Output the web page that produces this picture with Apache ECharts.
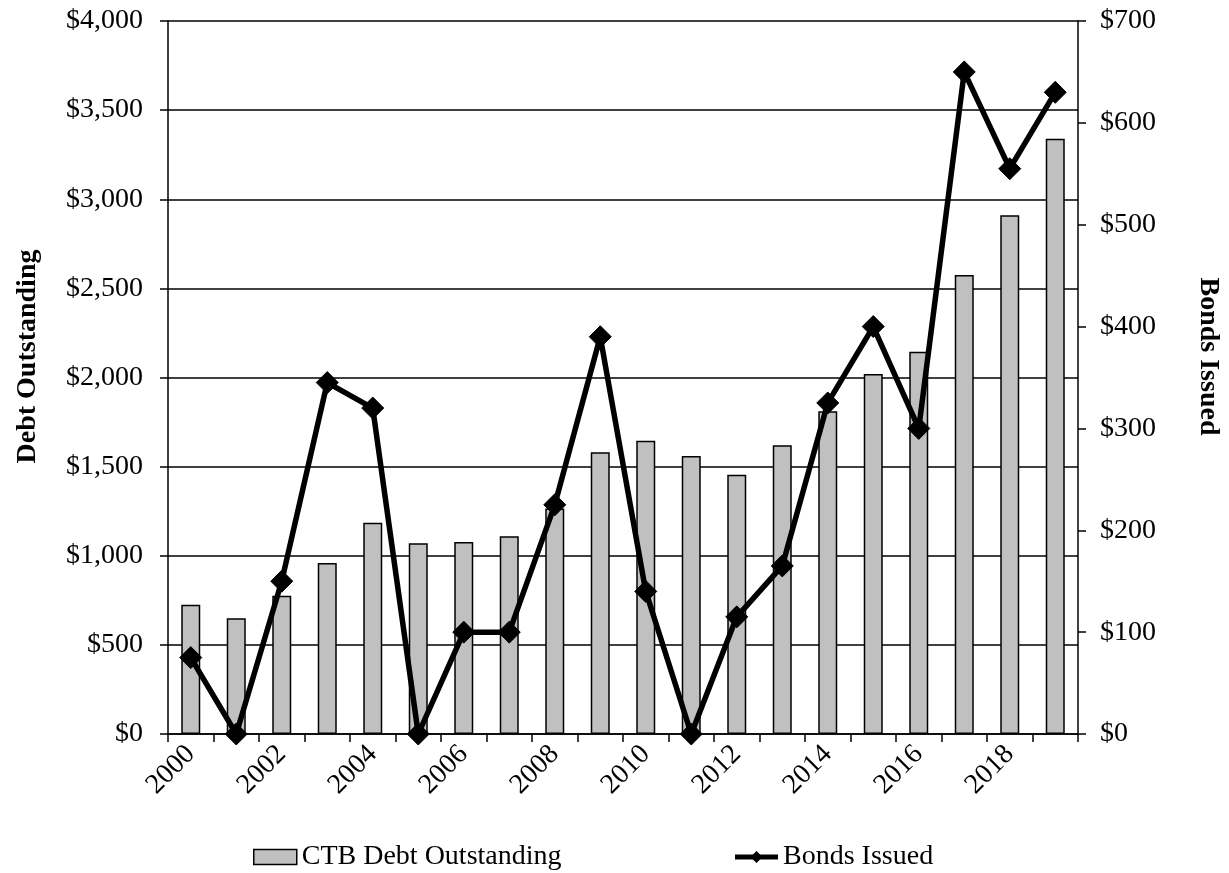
<!DOCTYPE html>
<html>
<head>
<meta charset="utf-8">
<script src="https://cdn.jsdelivr.net/npm/echarts@6/dist/echarts.min.js"></script>
<style>
  html, body { margin: 0; padding: 0; background: #fff; }
  #chart { width: 1229px; height: 873px; }
</style>
</head>
<body>
<div id="chart"></div>
<script>
// Fiscal years on the category axis
const years = ['2000','2001','2002','2003','2004','2005','2006','2007','2008','2009',
               '2010','2011','2012','2013','2014','2015','2016','2017','2018','2019'];

// CTB debt outstanding (left axis, $)
const debtOutstanding = [725, 650, 775, 960, 1185, 1070, 1077, 1110, 1265, 1580,
                         1645, 1560, 1455, 1620, 1810, 2020, 2145, 2575, 2910, 3340];

// Bonds issued per year (right axis, $)
const bondsIssued = [75, 0, 150, 345, 320, 0, 100, 100, 225, 390,
                     140, 0, 115, 165, 325, 400, 300, 650, 555, 630];

const FONT = 'Liberation Serif, Times New Roman, serif';
const FS = 28;
const money = v => '$' + v.toLocaleString('en-US');

const chart = echarts.init(document.getElementById('chart'), null, { renderer: 'canvas' });

chart.setOption({
  animation: false,
  backgroundColor: '#ffffff',
  textStyle: { fontFamily: FONT, color: '#000' },
  grid: { left: 168, right: 151, top: 21, bottom: 139, containLabel: false,
          outerBoundsMode: 'none' },
  legend: {
    top: 838,
    left: 248,
    itemWidth: 43,
    itemHeight: 15,
    itemGap: 171,
    textStyle: { fontFamily: FONT, fontSize: FS, color: '#000' },
    data: [
      { name: 'CTB Debt Outstanding', icon: 'rect',
        itemStyle: { color: '#c0c0c0', borderColor: '#000', borderWidth: 1.5 } },
      { name: 'Bonds Issued',
        lineStyle: { color: '#000', width: 5 },
        itemStyle: { color: '#000' } }
    ]
  },
  xAxis: {
    type: 'category',
    data: years,
    boundaryGap: true,
    axisLine: { show: true, lineStyle: { color: '#000', width: 1.5 } },
    axisTick: { show: true, interval: 0, length: 8, inside: false,
                lineStyle: { color: '#000', width: 1.5 } },
    axisLabel: { interval: 1, rotate: 45, fontFamily: FONT, fontSize: FS,
                 color: '#000', margin: 16 },
    splitLine: { show: false }
  },
  yAxis: [
    {
      type: 'value',
      name: 'Debt Outstanding',
      nameLocation: 'middle',
      nameGap: 126,
      nameRotate: 90,
      nameTextStyle: { fontFamily: FONT, fontSize: FS, fontWeight: 'bold', color: '#000',
                       padding: [0, 0, 0, 42] },
      min: 0, max: 4000, interval: 500,
      axisLine: { show: true, lineStyle: { color: '#000', width: 1.5 } },
      axisTick: { show: true, length: 8, lineStyle: { color: '#000', width: 1.5 } },
      axisLabel: { formatter: money, fontFamily: FONT, fontSize: FS, color: '#000', margin: 25 },
      splitLine: { show: true, lineStyle: { color: '#000', width: 1.5 } }
    },
    {
      type: 'value',
      name: 'Bonds Issued',
      nameLocation: 'middle',
      nameGap: 116,
      nameRotate: -90,
      nameTextStyle: { fontFamily: FONT, fontSize: FS, fontWeight: 'bold', color: '#000',
                       padding: [0, 42, 0, 0] },
      min: 0, max: 700, interval: 100,
      position: 'right',
      axisLine: { show: true, lineStyle: { color: '#000', width: 1.5 } },
      axisTick: { show: true, length: 8, lineStyle: { color: '#000', width: 1.5 } },
      axisLabel: { formatter: money, fontFamily: FONT, fontSize: FS, color: '#000', margin: 22 },
      splitLine: { show: false }
    }
  ],
  series: [
    {
      name: 'CTB Debt Outstanding',
      type: 'bar',
      yAxisIndex: 0,
      data: debtOutstanding,
      barWidth: 19,
      itemStyle: { color: '#c0c0c0', borderColor: '#000', borderWidth: 1.5 },
      z: 2
    },
    {
      name: 'Bonds Issued',
      type: 'line',
      yAxisIndex: 1,
      data: bondsIssued,
      symbol: 'diamond',
      symbolSize: 22,
      showAllSymbol: true,
      lineStyle: { color: '#000', width: 5.5 },
      itemStyle: { color: '#000', borderColor: '#000' },
      z: 3
    }
  ]
});
</script>
</body>
</html>
